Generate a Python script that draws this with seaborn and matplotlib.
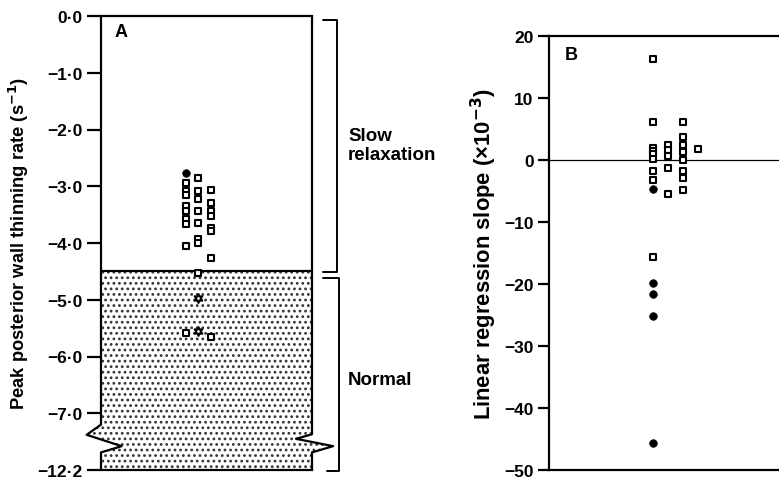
import matplotlib
matplotlib.use("Agg")
import matplotlib.pyplot as plt
import seaborn as sns
import pandas as pd
import numpy as np

# ---------------- data ----------------
# Panel A: peak posterior wall thinning rate (s^-1)
a_column = [0, 0, 0, 0, 0, 0, 0, 0, 0, 0,
            1, 1, 1, 1, 1, 1, 1, 1, 1, 1,
            2, 2, 2, 2, 2, 2, 2, 2]
a_value = [-2.76, -2.95, -3.09, -3.15, -3.35, -3.43, -3.57, -3.67, -4.06, -5.59,
           -2.85, -3.09, -3.22, -3.43, -3.65, -3.93, -4.00, -4.52, -4.97, -5.55,
           -3.07, -3.29, -3.43, -3.52, -3.73, -3.79, -4.26, -5.65]
a_kind = ["filled", "open", "open", "open", "open", "open", "open", "open", "open", "open",
          "open", "open", "open", "open", "open", "open", "open", "open", "star", "star",
          "open", "open", "open", "open", "open", "open", "open", "open"]
a_tick_pos = [0, -1, -2, -3, -4, -5, -6, -7, -8]
a_tick_labels = ["0\u00b70", "\u22121\u00b70", "\u22122\u00b70", "\u22123\u00b70", "\u22124\u00b70",
                 "\u22125\u00b70", "\u22126\u00b70", "\u22127\u00b70", "\u221212\u00b72"]
normal_threshold = -4.5

# Panel B: linear regression slope (x10^-3)
b_column = [0, 0, 0, 0, 0, 0, 0, 0, 0, 0, 0, 0, 0, 0,
            1, 1, 1, 1, 1,
            2, 2, 2, 2, 2, 2, 2, 2,
            3]
b_value = [16.3, 6.2, 2.0, 1.5, 0.95, 0.2, -1.7, -3.3, -15.6, -4.6, -19.9, -21.6, -25.2, -45.7,
           2.5, 1.6, 0.7, -1.3, -5.5,
           6.1, 3.7, 2.5, 1.3, 0.0, -1.7, -2.9, -4.8,
           1.7]
b_kind = ["open"] * 9 + ["filled"] * 5 + ["open"] * 5 + ["open"] * 8 + ["open"]
b_ticks = [20, 10, 0, -10, -20, -30, -40, -50]

dfa = pd.DataFrame({"col": a_column, "val": a_value, "kind": a_kind})
dfb = pd.DataFrame({"col": b_column, "val": b_value, "kind": b_kind})

# ---------------- style ----------------
sns.set_style("ticks")
plt.rcParams["font.family"] = ["Liberation Sans", "DejaVu Sans"]
plt.rcParams["font.weight"] = "bold"
plt.rcParams["axes.labelweight"] = "bold"
plt.rcParams["axes.linewidth"] = 1.6
plt.rcParams["hatch.linewidth"] = 1.2
for k in ["text.color", "axes.labelcolor", "xtick.color", "ytick.color", "axes.edgecolor"]:
    plt.rcParams[k] = "black"

fig = plt.figure(figsize=(7.79, 4.81), dpi=100)
axA = fig.add_axes([101 / 779, 10 / 481, 211 / 779, 454 / 481])
axB = fig.add_axes([549 / 779, 10 / 481, 232 / 779, 434 / 481])

fs_tick = 12.5

# ---------------- panel A ----------------
axA.set_xlim(-6.8, 10.1)
axA.set_ylim(-8, 0)
trA = axA.get_yaxis_transform()

# shaded "normal" region with zigzag break
left_zig = [(0.0, normal_threshold), (0.0, -7.2), (-0.068, -7.38), (0.098, -7.58), (0.0, -7.69), (0.0, -8.0)]
right_zig = [(1.0, -8.0), (1.0, -7.69), (1.10, -7.58), (0.924, -7.45), (1.0, -7.37), (1.0, normal_threshold)]
poly = left_zig + right_zig
shade = plt.Polygon(poly, closed=True, transform=trA, facecolor="white",
                    edgecolor="#333333", hatch="...", linewidth=0, clip_on=False, zorder=0.5)
axA.add_patch(shade)
axA.plot([0, 1], [normal_threshold, normal_threshold], transform=trA, color="black", lw=1.6, zorder=1)

# spines with break
for side in ["left", "right"]:
    axA.spines[side].set_visible(False)
lx = [0, 0, -0.068, 0.098, 0.0, 0.0]
ly = [0, -7.2, -7.38, -7.58, -7.69, -8.0]
axA.plot(lx, ly, transform=trA, color="black", lw=1.6, clip_on=False, zorder=3)
rx = [1, 1, 0.924, 1.10, 1.0, 1.0]
ry = [0, -7.37, -7.45, -7.58, -7.69, -8.0]
axA.plot(rx, ry, transform=trA, color="black", lw=1.6, clip_on=False, zorder=3)

marker_map = {"open": "s", "filled": "o", "star": (6, 1, 0)}
for kind in ["open", "filled", "star"]:
    sub = dfa[dfa["kind"] == kind]
    if kind == "filled":
        sns.scatterplot(data=sub, x="col", y="val", ax=axA, marker="o", s=30,
                        color="black", edgecolor="black", linewidth=0.5, zorder=4)
    else:
        sns.scatterplot(data=sub, x="col", y="val", ax=axA, marker=marker_map[kind],
                        s=22 if kind == "open" else 40, facecolor="white",
                        edgecolor="black", linewidth=1.5, zorder=4)

axA.set_yticks(a_tick_pos)
axA.set_yticklabels(a_tick_labels, fontsize=fs_tick, fontweight="bold")
axA.set_xticks([])
axA.tick_params(axis="y", length=10, width=1.6, direction="out", pad=3)
axA.set_xlabel("")
axA.set_ylabel("Peak posterior wall thinning rate (s$^{\\mathbf{-1}}$)", fontsize=13.2,
               fontweight="bold", labelpad=5)
axA.text(0.065, 0.985, "A", transform=axA.transAxes, fontsize=13, fontweight="bold",
         ha="left", va="top")

# brackets
figtr = fig.transFigure
def px(x, y):
    return (x / 779, 1 - y / 481)

def fig_line(xs, ys):
    pts = [px(x, y) for x, y in zip(xs, ys)]
    fig.add_artist(plt.Line2D([p[0] for p in pts], [p[1] for p in pts],
                              transform=figtr, color="black", lw=1.4))

fig_line([323, 337, 337, 323], [20.5, 20.5, 273, 273])
fig_line([323, 339, 339, 327], [279, 279, 471.5, 471.5])
fig.text(*px(348, 146), "Slow\nrelaxation", fontsize=13.5, fontweight="bold", ha="left",
         va="center", linespacing=1.15)
fig.text(*px(348, 381), "Normal", fontsize=13.5, fontweight="bold", ha="left", va="center")

# ---------------- panel B ----------------
axB.set_xlim(-6.82, 8.43)
axB.set_ylim(-50, 20)
axB.axhline(0, color="black", lw=0.9, zorder=1)
axB.spines["right"].set_visible(False)
for kind in ["open", "filled"]:
    sub = dfb[dfb["kind"] == kind]
    if kind == "filled":
        sns.scatterplot(data=sub, x="col", y="val", ax=axB, marker="o", s=30,
                        color="black", edgecolor="black", linewidth=0.5, zorder=4)
    else:
        sns.scatterplot(data=sub, x="col", y="val", ax=axB, marker="s", s=22,
                        facecolor="white", edgecolor="black", linewidth=1.5, zorder=4)
axB.set_yticks(b_ticks)
axB.set_yticklabels([str(t).replace("-", "\u2212") for t in b_ticks], fontsize=12.5,
                    fontweight="bold")
axB.set_xticks([])
axB.tick_params(axis="y", length=8, width=1.6, direction="out", pad=3)
axB.set_xlabel("")
axB.set_ylabel("Linear regression slope (\u00d710$^{\\mathbf{-3}}$)", fontsize=15.8,
               fontweight="bold", labelpad=4)
axB.text(0.07, 0.977, "B", transform=axB.transAxes, fontsize=13, fontweight="bold",
         ha="left", va="top")

fig.savefig("out.png", dpi=100)
